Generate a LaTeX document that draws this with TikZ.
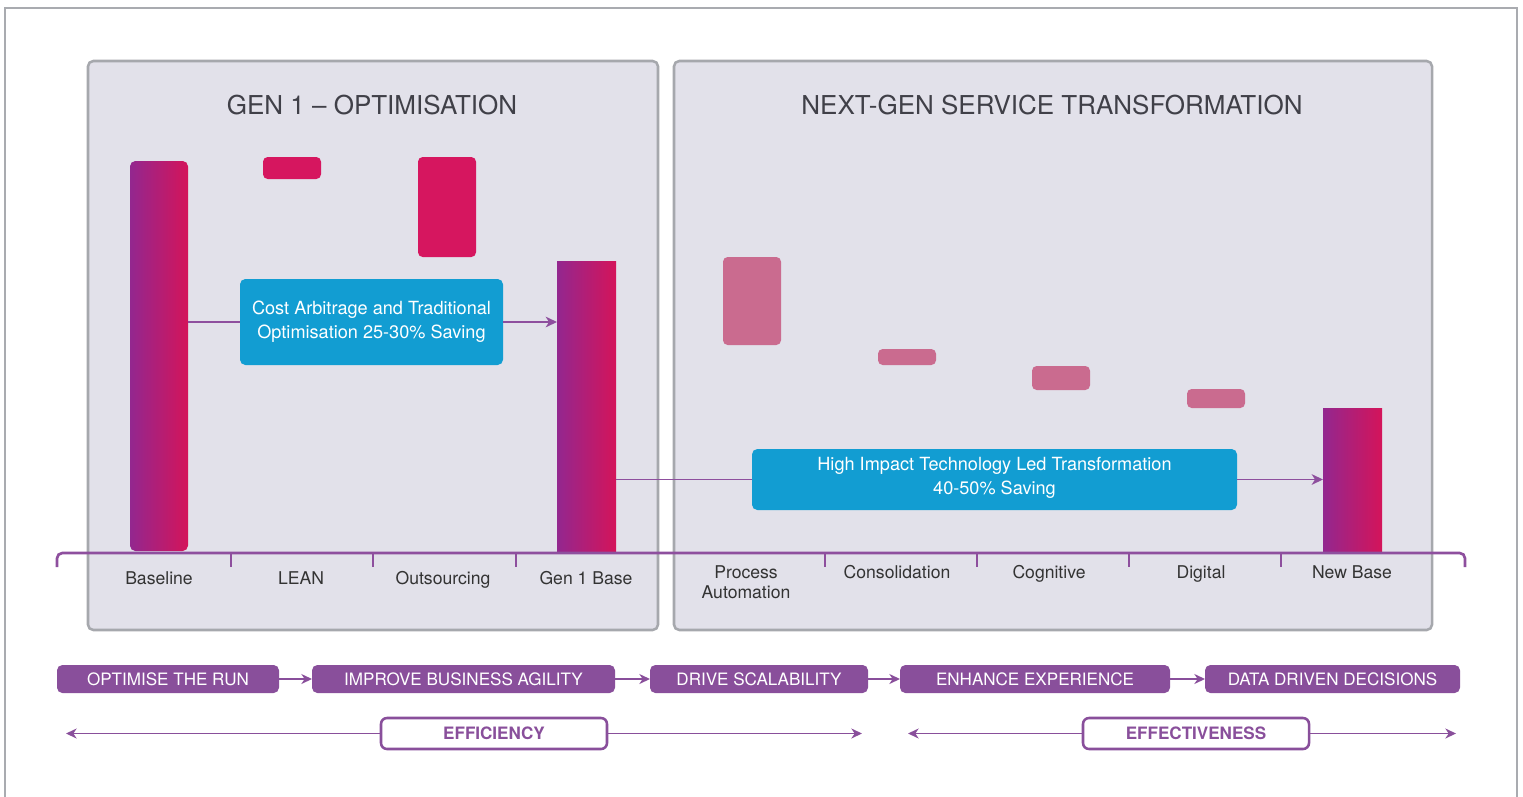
\documentclass[tikz,border=0pt]{standalone}
\usepackage{fontspec}
\setmainfont{TeX Gyre Heros}
\usetikzlibrary{arrows.meta,fit,calc}

\definecolor{framegray}{HTML}{A9ABB0}
\definecolor{panelfill}{HTML}{E2E1EA}
\definecolor{panelline}{HTML}{A6A8AD}
\definecolor{axispurple}{HTML}{8E4F9E}
\definecolor{steppurple}{HTML}{894F9B}
\definecolor{boxblue}{HTML}{129DD2}
\definecolor{barpurple}{HTML}{93278F}
\definecolor{barmagenta}{HTML}{D4145A}
\definecolor{dropmagenta}{HTML}{D6165F}
\definecolor{droppink}{HTML}{CA6B8F}
\definecolor{labelgray}{HTML}{333333}
\definecolor{titlegray}{HTML}{404048}

\begin{document}
\begin{tikzpicture}[x=0.75pt,y=-0.75pt,
  fitbox/.style={inner sep=0pt, outer sep=0pt},
  panel/.style={fitbox, draw=panelline, line width=1.9pt, fill=panelfill, rounded corners=4pt},
  bar/.style={fitbox, left color=barpurple, right color=barmagenta},
  dropbox/.style={fitbox, rounded corners=3.5pt},
  title/.style={anchor=base, text=titlegray, font=\fontsize{19.5}{23}\selectfont},
  axislabel/.style={anchor=base, text=labelgray, align=center, font=\fontsize{13.2}{15}\selectfont},
  axisline/.style={draw=axispurple, line width=2pt},
  bluebox/.style={fitbox, fill=boxblue, rounded corners=4pt},
  bluetext/.style={text=white, align=center, font=\fontsize{13.6}{18}\selectfont},
  stepbox/.style={fitbox, fill=steppurple, rounded corners=4pt},
  steptext/.style={text=white, font=\fontsize{12.8}{15}\selectfont},
  themebox/.style={fitbox, draw=steppurple, line width=1.9pt, fill=white, rounded corners=4.5pt},
  themetext/.style={text=steppurple, font=\fontsize{12.8}{15}\selectfont\bfseries},
  flow/.style={draw=axispurple, line width=1.2pt},
  flowtip/.style={flow, -{Stealth[length=8.5pt,width=8pt,inset=2.5pt]}},
  stepflow/.style={draw=steppurple, line width=1.2pt, -{Stealth[length=8pt,width=7.5pt,inset=2.5pt]}},
]
\useasboundingbox (0,0) rectangle (1523,796);

% outer frame, open at the bottom
\draw[framegray, line width=2pt] (5,810) -- (5,8) -- (1517,8) -- (1517,810);

% the two phase panels
\node[panel, fit={(88,61) (658,630)}] (gen1panel) {};
\node[panel, fit={(674,61) (1432,630)}] (nextpanel) {};
\node[title] (gen1title) at (372,114.5) {GEN 1 – OPTIMISATION};
\node[title] (nexttitle) at (1052,114.5) {NEXT-GEN SERVICE TRANSFORMATION};

% waterfall bars
\node[bar, rounded corners=4pt, fit={(130,161) (188,551)}] (baseline) {};
\node[dropbox, fill=dropmagenta, fit={(263,157) (321,179)}] (lean) {};
\node[dropbox, fill=dropmagenta, fit={(418,157) (476,257)}] (outsourcing) {};
\node[bar, fit={(557,261) (616,551)}] (gen1base) {};
\node[dropbox, fill=droppink, fit={(723,257) (781,345)}] (procauto) {};
\node[dropbox, fill=droppink, fit={(878,349) (936,365)}] (consolidation) {};
\node[dropbox, fill=droppink, fit={(1032,366) (1090,390)}] (cognitive) {};
\node[dropbox, fill=droppink, fit={(1187,389) (1245,408)}] (digital) {};
\node[bar, fit={(1323,408) (1382,551)}] (newbase) {};

% saving call-outs and their connectors
\node[bluebox, fit={(240,279) (503,365)}] (costbox) {};
\node[bluetext] (costtext) at (371.5,321.5) {Cost Arbitrage and Traditional\\Optimisation 25-30\% Saving};
\node[bluebox, fit={(752,449) (1237,510)}] (impactbox) {};
\node[bluetext] (impacttext) at (994.5,478) {High Impact Technology Led Transformation\\40-50\% Saving};
\draw[flow] (baseline.east |- costbox.west) -- (costbox.west);
\draw[flowtip] (costbox.east) -- (gen1base.west |- costbox.east);
\draw[flow] (gen1base.east |- impactbox.west) -- (impactbox.west);
\draw[flowtip] (impactbox.east) -- (newbase.west |- impactbox.east);

% category axis
\draw[axisline, rounded corners=4pt] (57,567) -- (57,553) -- (1465,553) -- (1465,567);
\foreach \tx in {231,373,516,825,977,1129,1281}
  \draw[axisline] (\tx,553) -- (\tx,567);
\node[axislabel] (lblbaseline) at (159,584) {Baseline};
\node[axislabel] (lbllean) at (301,584) {LEAN};
\node[axislabel] (lbloutsourcing) at (443,584) {Outsourcing};
\node[axislabel] (lblgen1) at (586,584) {Gen 1 Base};
\node[axislabel] (lblproc) at (746,598) {Process\\Automation};
\node[axislabel] (lblcons) at (897,578) {Consolidation};
\node[axislabel] (lblcog) at (1049,578) {Cognitive};
\node[axislabel] (lbldig) at (1201,578) {Digital};
\node[axislabel] (lblnew) at (1352,578) {New Base};

% value chain steps
\node[stepbox, fit={(57,665) (279,693)}] (s1) {};
\node[stepbox, fit={(312,665) (615,693)}] (s2) {};
\node[stepbox, fit={(650,665) (868,693)}] (s3) {};
\node[stepbox, fit={(900,665) (1170,693)}] (s4) {};
\node[stepbox, fit={(1205,665) (1460,693)}] (s5) {};
\node[steptext] (s1text) at (s1) {OPTIMISE THE RUN};
\node[steptext] (s2text) at (s2) {IMPROVE BUSINESS AGILITY};
\node[steptext] (s3text) at (s3) {DRIVE SCALABILITY};
\node[steptext] (s4text) at (s4) {ENHANCE EXPERIENCE};
\node[steptext] (s5text) at (s5) {DATA DRIVEN DECISIONS};
\draw[stepflow] (s1.east) -- (s2.west);
\draw[stepflow] (s2.east) -- (s3.west);
\draw[stepflow] (s3.east) -- (s4.west);
\draw[stepflow] (s4.east) -- (s5.west);

% efficiency / effectiveness spans
\node[themebox, fit={(381,718) (607,749)}] (efficiency) {};
\node[themebox, fit={(1083,718) (1309,749)}] (effectiveness) {};
\node[themetext] (efficiencytext) at (efficiency) {EFFICIENCY};
\node[themetext] (effectivenesstext) at (effectiveness) {EFFECTIVENESS};
\coordinate (effL) at (66,733.5);
\coordinate (effR) at (862,733.5);
\coordinate (efvL) at (908,733.5);
\coordinate (efvR) at (1456,733.5);
\draw[stepflow] (efficiency.west) -- (effL);
\draw[stepflow] (efficiency.east) -- (effR);
\draw[stepflow] (effectiveness.west) -- (efvL);
\draw[stepflow] (effectiveness.east) -- (efvR);
\end{tikzpicture}
\end{document}
